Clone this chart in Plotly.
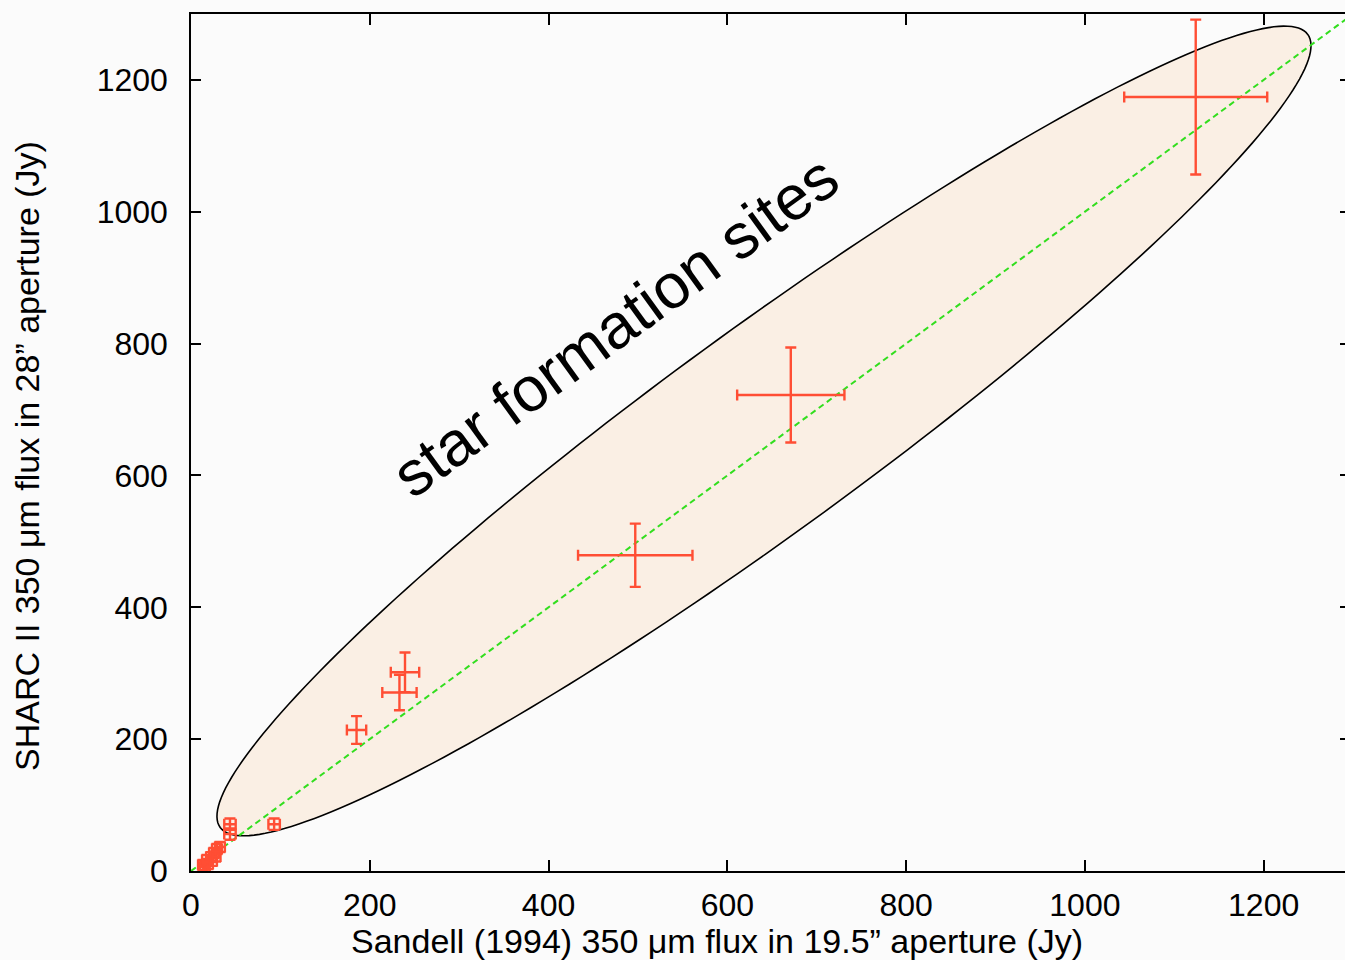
import numpy as np
import plotly.graph_objects as go

# Sandell (1994) 350 um flux (x) vs SHARC II 350 um flux (y), in Jy
sandell_flux = [1124, 671, 497, 239.4, 233.2, 185.2, 43.6, 43.6, 93.0,
                13.4, 17.9, 22.4, 25.7, 29.0, 32.4, 19.0, 23.5, 15.5, 27.5]
sandell_err = [80, 60, 64, 15.9, 19.2, 10.8, 6.4, 6.4, 6.4,
               5.5, 5.5, 5.5, 5.5, 5.5, 5.5, 5.5, 5.5, 5.5, 5.5]
sharc_flux = [1174, 722, 479, 301.4, 270.8, 213.9, 71.0, 56.0, 71.0,
              9.1, 16.7, 21.2, 27.3, 33.4, 36.4, 10.6, 15.2, 6.5, 22.0]
sharc_err = [117.5, 72, 48, 30, 27, 21, 8.6, 8.6, 8.6,
             7.5, 7.5, 7.5, 7.5, 7.5, 7.5, 7.5, 7.5, 7.5, 7.5]

# one-to-one reference line
one_to_one = [0, 1300]

tick_values = [0, 200, 400, 600, 800, 1000, 1200]
tick_labels = ["0", "200", "400", "600", "800", "1000", "1200"]

W, H = 1345, 960
ML, MR, MT, MB = 191, 0, 14, 89
X_RANGE = [0, 1291]
Y_RANGE = [0, 1300]

plot_w = W - ML - MR
plot_h = H - MT - MB
sx = plot_w / (X_RANGE[1] - X_RANGE[0])   # px per Jy along x
sy = plot_h / (Y_RANGE[1] - Y_RANGE[0])   # px per Jy along y

# "star formation sites" ellipse, defined in screen pixels around a data-space centre
ell_cx, ell_cy = 641, 667.5
ell_a, ell_b = 673, 101
ell_theta = np.deg2rad(36.1)
t = np.linspace(0, 2 * np.pi, 241)
du = ell_a * np.cos(t) * np.cos(ell_theta) - ell_b * np.sin(t) * np.sin(ell_theta)
dv = ell_a * np.cos(t) * np.sin(ell_theta) + ell_b * np.sin(t) * np.cos(ell_theta)
ex = ell_cx + du / sx
ey = ell_cy + dv / sy
ell_path = "M " + " L ".join(f"{x:.2f},{y:.2f}" for x, y in zip(ex, ey)) + " Z"

RED = "rgb(255,78,52)"
GREEN = "rgb(50,222,30)"
BG = "#fbfbfb"
FONT = "Liberation Sans, Arial, Helvetica, sans-serif"

fig = go.Figure()

fig.add_trace(go.Scatter(
    x=one_to_one, y=one_to_one, mode="lines",
    line=dict(color=GREEN, width=2, dash="6px,4px"),
    hoverinfo="skip", showlegend=False,
))

fig.add_trace(go.Scatter(
    x=sandell_flux, y=sharc_flux, mode="markers",
    marker=dict(size=2, color=RED),
    error_x=dict(type="data", array=sandell_err, color=RED, thickness=2.4, width=5.5),
    error_y=dict(type="data", array=sharc_err, color=RED, thickness=2.4, width=5.5),
    showlegend=False,
))

# invisible trace to carry the right-hand tick marks
fig.add_trace(go.Scatter(x=[None], y=[None], yaxis="y2", xaxis="x", showlegend=False))

fig.add_shape(type="path", path=ell_path, xref="x", yref="y",
              fillcolor="rgb(250,239,228)", line=dict(color="black", width=1.6),
              layer="below")

fig.add_annotation(
    text="star formation sites", x=474, y=827, xref="x", yref="y",
    showarrow=False, textangle=-36, font=dict(family=FONT, size=63, color="black"),
)

fig.update_layout(
    width=W, height=H,
    margin=dict(l=ML, r=MR, t=MT, b=MB, pad=0),
    paper_bgcolor=BG, plot_bgcolor=BG,
    font=dict(family=FONT, size=32, color="black"),
    xaxis=dict(
        range=X_RANGE, tickvals=tick_values, ticktext=tick_labels,
        ticks="inside", ticklen=11, tickwidth=1.5, tickcolor="black",
        showline=True, linecolor="black", linewidth=1.5, mirror="ticks",
        showgrid=False, zeroline=False, ticklabelstandoff=5,
    ),
    yaxis=dict(
        range=Y_RANGE, tickvals=tick_values, ticktext=tick_labels,
        ticks="inside", ticklen=10, tickwidth=1.5, tickcolor="black",
        showline=True, linecolor="black", linewidth=1.5,
        showgrid=False, zeroline=False, ticklabelstandoff=15,
    ),
    yaxis2=dict(
        range=Y_RANGE, tickvals=tick_values, overlaying="y", side="right",
        ticks="inside", ticklen=5, tickwidth=1.5, tickcolor="black",
        showticklabels=False, showline=False, showgrid=False, zeroline=False,
    ),
)

# axis titles placed as paper-coordinate annotations
fig.add_annotation(
    text="Sandell (1994) 350 μm flux in 19.5” aperture (Jy)",
    x=(717 - ML) / plot_w, y=(H - 941 - MB) / plot_h, xref="paper", yref="paper",
    showarrow=False, xanchor="center", yanchor="middle",
    font=dict(family=FONT, size=34, color="black"),
)
fig.add_annotation(
    text="SHARC II 350 μm flux in 28” aperture (Jy)",
    x=(27 - ML) / plot_w, y=(H - 456 - MB) / plot_h, xref="paper", yref="paper",
    showarrow=False, textangle=-90, xanchor="center", yanchor="middle",
    font=dict(family=FONT, size=34, color="black"),
)

fig.write_html("out.html")
